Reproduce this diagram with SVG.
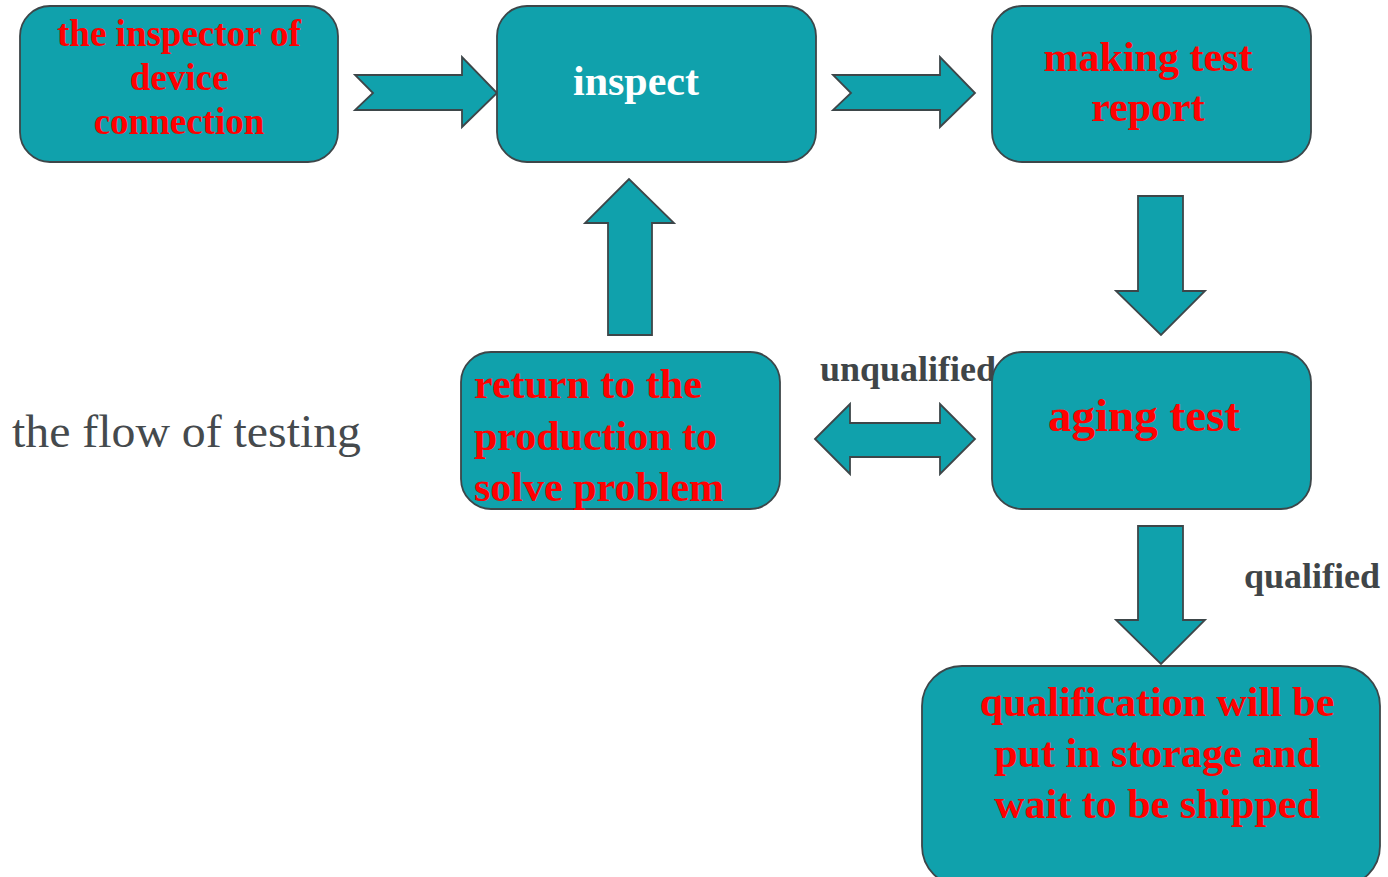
<svg xmlns="http://www.w3.org/2000/svg" width="1388" height="877" viewBox="0 0 1388 877">
<style>
.box{fill:#10a1ac;stroke:#3d4649;stroke-width:1.8}
.arr{fill:#10a1ac;stroke:#3d4649;stroke-width:1.8;stroke-linejoin:miter}
.t{font-family:"Liberation Serif","Times New Roman",serif;font-weight:bold;fill:#ff0000;text-anchor:middle}
.lbl{font-family:"Liberation Serif","Times New Roman",serif;font-weight:bold;fill:#404548;font-size:36px}
</style>
<rect width="1388" height="877" fill="#ffffff"/>
<g id="connectors">
<polygon class="arr" points="355,75 462,75 462,57 497,93 462,127 462,110 355,110 373,93"/>
<polygon class="arr" points="833,75 940,75 940,57 975,93 940,127 940,110 833,110 851,93"/>
<polygon class="arr" points="1138,196 1183,196 1183,291 1205,291 1161,335 1116,291 1138,291"/>
<polygon class="arr" points="1138,526 1183,526 1183,620 1205,620 1161,664 1116,620 1138,620"/>
<polygon class="arr" points="608,335 652,335 652,223 674,223 629,179 585,223 608,223"/>
<polygon class="arr" points="815,439 850,404 850,423 940,423 940,404 975,439 940,474 940,457 850,457 850,474"/>
<text class="lbl" x="820" y="381">unqualified</text>
<text class="lbl" x="1244" y="588">qualified</text>
</g>
<g id="node-inspector">
<rect class="box" x="20" y="6" width="318" height="156" rx="30"/>
<text class="t" font-size="37" x="179" y="46">the inspector of</text>
<text class="t" font-size="37" x="179" y="90">device</text>
<text class="t" font-size="37" x="179" y="134">connection</text>
</g>
<g id="node-inspect">
<rect class="box" x="497" y="6" width="319" height="156" rx="30"/>
<text class="t" font-size="42" x="636" y="95" style="fill:#ffffff">inspect</text>
</g>
<g id="node-report">
<rect class="box" x="992" y="6" width="319" height="156" rx="30"/>
<text class="t" font-size="42" x="1148" y="71">making test</text>
<text class="t" font-size="42" x="1148" y="121">report</text>
</g>
<g id="node-return">
<rect class="box" x="461" y="352" width="319" height="157" rx="30"/>
<text class="t" font-size="42" x="474" y="398" style="text-anchor:start">return to the</text>
<text class="t" font-size="42" x="474" y="450" style="text-anchor:start">production to</text>
<text class="t" font-size="42" x="474" y="501" style="text-anchor:start">solve problem</text>
</g>
<g id="node-aging">
<rect class="box" x="992" y="352" width="319" height="157" rx="30"/>
<text class="t" font-size="47" x="1144" y="431">aging test</text>
</g>
<g id="node-storage">
<rect class="box" x="922" y="666" width="458" height="220" rx="40"/>
<text class="t" font-size="42" x="1157" y="716">qualification will be</text>
<text class="t" font-size="42" x="1157" y="767">put in storage and</text>
<text class="t" font-size="42" x="1157" y="818">wait to be shipped</text>
</g>
<g id="title">
<text x="12" y="447" font-family="Liberation Serif,'Times New Roman',serif" font-size="46" fill="#454a4d" textLength="349" lengthAdjust="spacingAndGlyphs">the flow of testing</text>
</g>
</svg>
